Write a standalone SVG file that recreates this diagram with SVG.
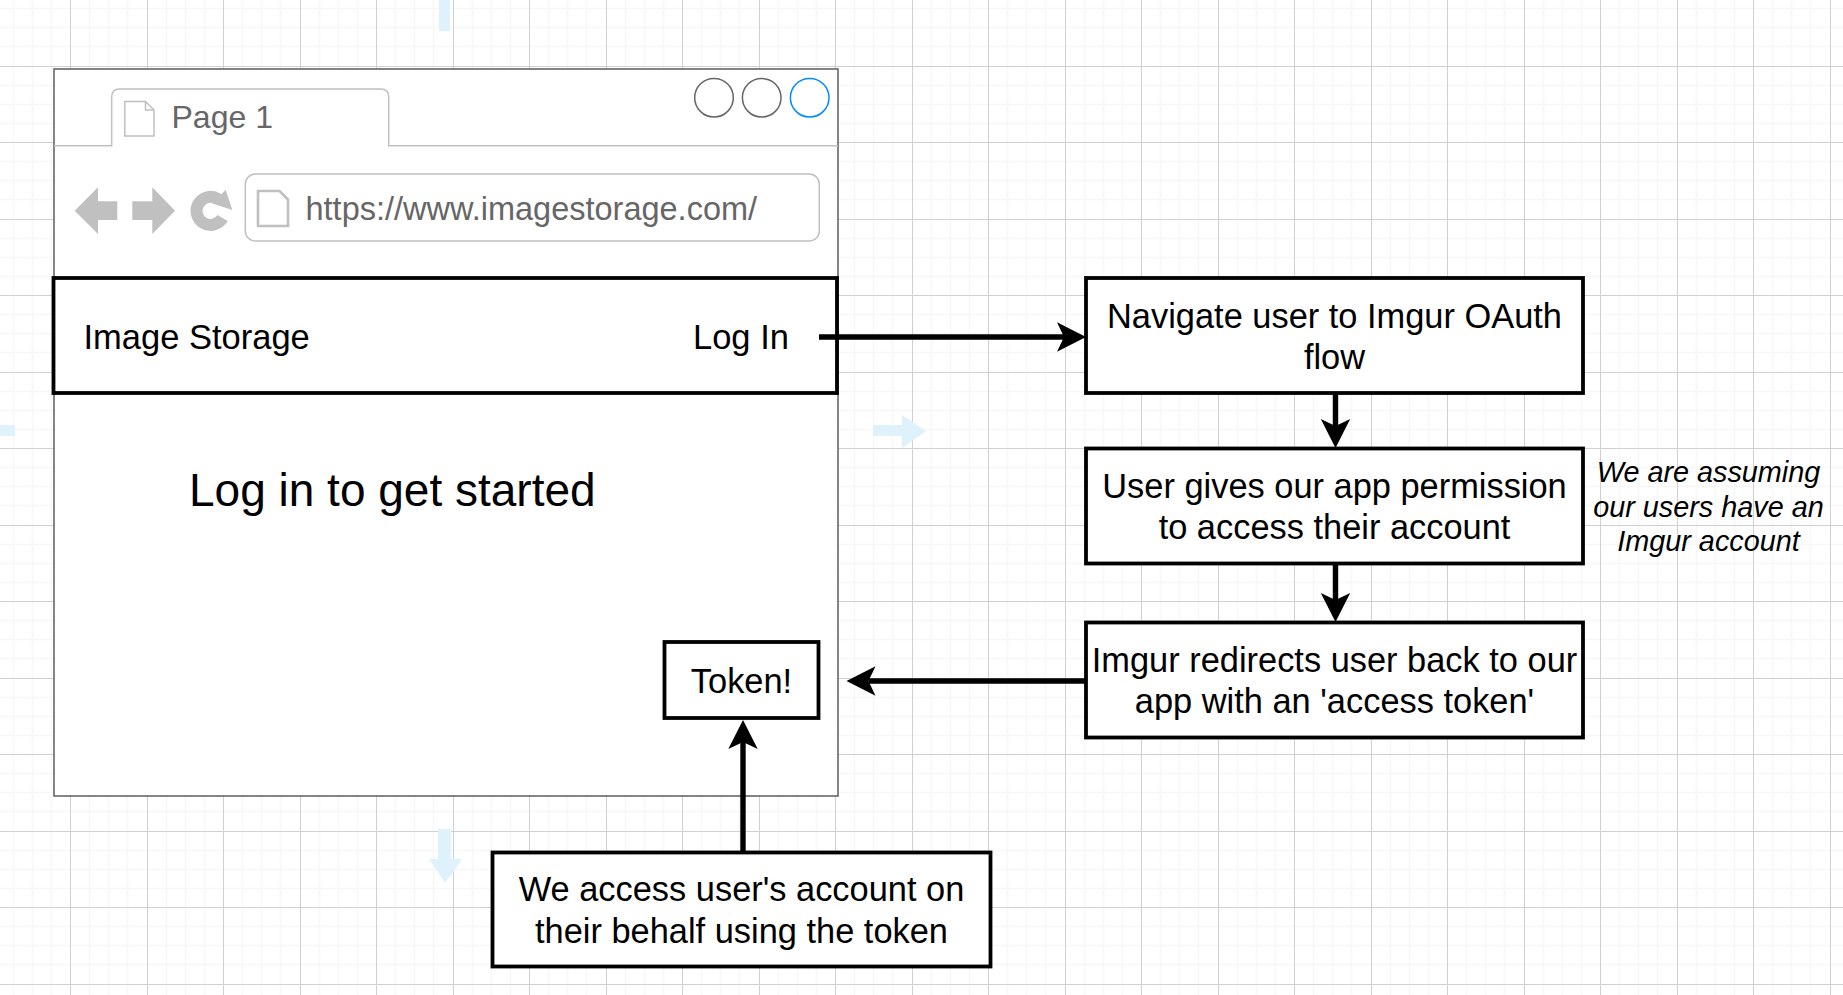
<svg xmlns="http://www.w3.org/2000/svg" width="1843" height="995" viewBox="0 0 1843 995">
  <style>
    text { font-family: "Liberation Sans", Arial, sans-serif; fill: #000; }
    .box { fill: #fff; stroke: #000; stroke-width: 3.8; }
    .lbl { font-size: 34.4px; text-anchor: middle; }
    .ui { fill: #666; font-size: 32px; }
    .light { fill: none; stroke: #c0c0c0; stroke-width: 1.5; }
    .grey { fill: #c0c0c0; }
    .hint { fill: #dff2fc; }
    .win { fill: none; stroke: #666; stroke-width: 1.5; }
    .conn { fill: none; stroke: #000; stroke-width: 5.4; marker-end: url(#head); }
  </style>
  <defs>
    <marker id="head" markerUnits="userSpaceOnUse" markerWidth="32" markerHeight="32" viewBox="0 -16 32 32" refX="7" refY="0" orient="auto">
      <path d="M0,-14.7 L29,0 L0,14.7 L7,0 Z" fill="#000"/>
    </marker>
    <pattern id="grid" patternUnits="userSpaceOnUse" x="70" y="66" width="153" height="153">
      <path d="M19.5,0V153M38.5,0V153M57.5,0V153M96.5,0V153M115.5,0V153M134.5,0V153M0,19.5H153M0,38.5H153M0,57.5H153M0,95.5H153M0,114.5H153M0,133.5H153" fill="none" stroke="#f7f7f7" stroke-width="1.6"/>
      <path d="M0.5,0V153M77.5,0V153M0,0.5H153M0,76.5H153" fill="none" stroke="#d0d0d0" stroke-width="1"/>
    </pattern>
  </defs>

  <rect id="background" width="1843" height="995" fill="#fff"/>
  <rect id="gridlines" width="1843" height="995" fill="url(#grid)"/>

  <g id="hints">
    <path class="hint" d="M439,0H450V31H439Z"/>
    <path class="hint" d="M0,425H15V436H0Z"/>
    <path class="hint" d="M873,425H902V414.7L926,431 902,448V436H873Z"/>
    <path class="hint" d="M438,829H451V859H462.5L445,883 429,859H438Z"/>
  </g>

  <g id="browser">
    <rect x="54" y="69" width="784" height="727" fill="#fff" stroke="#666" stroke-width="1.6"/>
    <path class="light" d="M54,145.7H111.7V97Q111.7,89 119.7,89H380.7Q388.7,89 388.7,97V145.7H838"/>
    <path class="light" d="M124.8,136V101.5H145.5L154,110V136Z"/>
    <path class="light" stroke-width="1" d="M145.5,101.5V110H154"/>
    <text class="ui" x="171.5" y="127.5">Page 1</text>
    <circle class="win" cx="714" cy="97.7" r="19.3"/>
    <circle class="win" cx="761.7" cy="97.7" r="19.3"/>
    <circle class="win" cx="809.7" cy="97.7" r="19.3" style="stroke:#008cff"/>
    <rect class="light" x="245.3" y="174" width="574" height="67" rx="10"/>
    <path class="light" style="stroke-width:2.6" d="M258,226V191H279.5L288,199.5V226Z"/>
    <text class="ui" style="font-size:32.5px" x="305.5" y="220">https://www.imagestorage.com/</text>
    <path class="grey" d="M74.7,210.7L98,187.3V201.3H117.3V220H98V234Z"/>
    <path class="grey" d="M175,210.7L152.3,187.3V201.3H132.3V220H152.3V234Z"/>
    <path d="M218,199A14,14 0 1 0 222.6,218" fill="none" stroke="#c0c0c0" stroke-width="12"/>
    <path class="grey" d="M225.7,190L232.3,210 211.7,203.3Z"/>
  </g>

  <g id="header">
    <rect class="box" x="53.5" y="278" width="783.5" height="115"/>
    <text x="83.5" y="349" style="font-size:34.5px">Image Storage</text>
    <text x="693" y="349" style="font-size:34.5px">Log In</text>
  </g>

  <g id="heading">
    <text x="189" y="505.5" style="font-size:46px">Log in to get started</text>
  </g>

  <g id="token">
    <rect class="box" x="664.5" y="642" width="154" height="76"/>
    <text class="lbl" x="741.5" y="692.5">Token!</text>
  </g>

  <g id="navigate">
    <rect class="box" x="1086" y="278" width="497" height="115"/>
    <text class="lbl" x="1334.5" y="328">Navigate user to Imgur OAuth</text>
    <text class="lbl" x="1334.5" y="369">flow</text>
  </g>

  <g id="permission">
    <rect class="box" x="1086" y="448.5" width="497" height="115"/>
    <text class="lbl" x="1334.5" y="498">User gives our app permission</text>
    <text class="lbl" x="1334.5" y="539">to access their account</text>
  </g>

  <g id="redirect">
    <rect class="box" x="1086" y="622.5" width="497" height="115"/>
    <text class="lbl" x="1334.5" y="672">Imgur redirects user back to our</text>
    <text class="lbl" x="1334.5" y="713">app with an 'access token'</text>
  </g>

  <g id="access">
    <rect class="box" x="492.5" y="852.5" width="498" height="114"/>
    <text class="lbl" x="741.5" y="901">We access user's account on</text>
    <text class="lbl" x="741.5" y="943">their behalf using the token</text>
  </g>

  <g id="note" style="font-style:italic;font-size:28.8px;text-anchor:middle">
    <text x="1708.5" y="482">We are assuming</text>
    <text x="1708.5" y="517">our users have an</text>
    <text x="1708.5" y="551">Imgur account</text>
  </g>

  <g id="connectors">
    <path class="conn" d="M819,337H1064"/>
    <path class="conn" d="M1335.5,393V426"/>
    <path class="conn" d="M1335.5,563V600"/>
    <path class="conn" d="M1086,681H868.5"/>
    <path class="conn" d="M743,852V742"/>
  </g>
</svg>
